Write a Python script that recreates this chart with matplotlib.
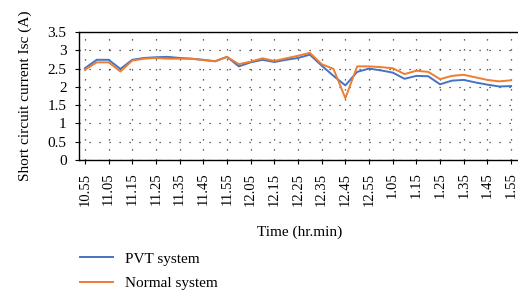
import matplotlib
matplotlib.use("Agg")
import matplotlib.pyplot as plt
import numpy as np

plt.rcParams['font.family'] = ['Liberation Serif', 'DejaVu Serif']

times = ["10.55", "11.00", "11.05", "11.10", "11.15", "11.20", "11.25", "11.30", "11.35",
         "11.40", "11.45", "11.50", "11.55", "12.00", "12.05", "12.10", "12.15", "12.20",
         "12.25", "12.30", "12.35", "12.40", "12.45", "12.50", "12.55", "1.00", "1.05",
         "1.10", "1.15", "1.20", "1.25", "1.30", "1.35", "1.40", "1.45", "1.50", "1.55"]

pvt = [2.51, 2.74, 2.74, 2.49, 2.74, 2.79, 2.81, 2.82, 2.79, 2.77, 2.74, 2.70, 2.82, 2.56,
       2.67, 2.74, 2.68, 2.74, 2.79, 2.88, 2.58, 2.30, 2.04, 2.41, 2.50, 2.45, 2.39, 2.22,
       2.30, 2.29, 2.07, 2.17, 2.19, 2.12, 2.06, 2.01, 2.02]
normal = [2.47, 2.67, 2.67, 2.42, 2.72, 2.77, 2.79, 2.77, 2.77, 2.77, 2.73, 2.70, 2.82, 2.62,
          2.69, 2.78, 2.71, 2.78, 2.85, 2.93, 2.62, 2.49, 1.69, 2.56, 2.56, 2.54, 2.51, 2.35,
          2.44, 2.41, 2.21, 2.30, 2.33, 2.26, 2.19, 2.15, 2.18]

fig = plt.figure(figsize=(5.18, 2.92), dpi=100)
ax = fig.add_axes([79/518, 1-160/292, (517-79)/518, 128/292])

x = np.arange(len(times))
ax.plot(x, pvt, color='#4472C4', lw=1.4, label='PVT system')
ax.plot(x, normal, color='#ED7D31', lw=1.4, label='Normal system')

ax.set_xlim(-0.5, len(times) - 0.5)
ax.set_ylim(0, 3.5)
ax.set_yticks(np.arange(0, 3.51, 0.5))
ax.set_yticklabels(["0", "0.5", "1", "1.5", "2", "2.5", "3", "3.5"], fontsize=11)
ax.set_xticks(x[::2])
ax.set_xticklabels(times[::2], rotation=90, fontsize=10.5)
ax.tick_params(axis='both', length=3, width=0.8, color='black', pad=6)

ax.grid(True, linestyle=(0, (1, 7)), color='#333333', lw=0.9)
ax.set_axisbelow(True)
for s in ['left', 'bottom', 'top']:
    ax.spines[s].set_color('black')
    ax.spines[s].set_linewidth(1.0)
ax.spines['right'].set_visible(False)

fig.text(25/518, 1-95.5/292, "Short circuit current Isc (A)", rotation=90,
         ha='center', va='center', fontsize=11)
fig.text(300/518, 1-232/292, "Time (hr.min)", ha='center', va='center', fontsize=11)

handles, labels = ax.get_legend_handles_labels()
fig.legend(handles, labels, loc='upper left', bbox_to_anchor=(80/518, 1-252/292),
           frameon=False, fontsize=11, handlelength=2.15, handletextpad=0.8,
           labelspacing=0.72, borderaxespad=0, borderpad=0)

fig.savefig("out.png", dpi=100)
